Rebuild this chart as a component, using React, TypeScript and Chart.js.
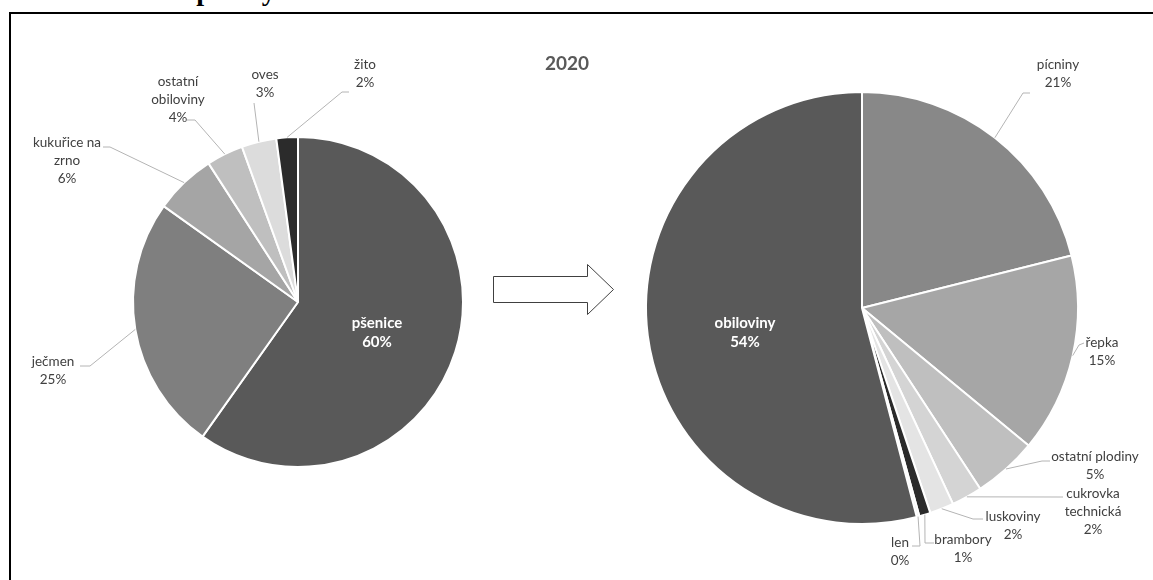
import React, { useEffect, useRef } from 'react';
import { Chart, registerables } from 'chart.js';

Chart.register(...registerables);

// ---------- data ----------
const captionText = 'Graf 1: Osevní plochy v ČR';
const rightTitle = '2020';

const grainCategories = ['pšenice', 'ječmen', 'kukuřice na\nzrno', 'ostatní\nobiloviny', 'oves', 'žito'];
const grainValues = [59.7, 25.0, 6.0, 3.6, 3.4, 2.1];
const grainColors = ['#595959', '#7f7f7f', '#a5a5a5', '#bfbfbf', '#dcdcdc', '#2b2b2b'];

const cropCategories = ['pícniny', 'řepka', 'ostatní plodiny', 'cukrovka\ntechnická', 'luskoviny', 'brambory', 'len', 'obiloviny'];
const cropValues = [21.1, 14.9, 4.8, 2.3, 1.8, 0.84, 0.2, 54.1];
const cropColors = ['#888888', '#a6a6a6', '#bfbfbf', '#d4d4d4', '#e4e4e4', '#2b2b2b', '#f2f2f2', '#595959'];

// ---------- label layout (offsets from pie centre) ----------
type LabelPos = { inside?: boolean; tx: number; ty: number; ex?: number; ey?: number; fx?: number; fy?: number };

const grainLabelLayout: LabelPos[] = [
  { inside: true, tx: 79, ty: 21 },
  { tx: -245, ty: 60, ex: -208, ey: 64, fx: -218, fy: 64 },
  { tx: -231, ty: -159, ex: -188, ey: -155, fx: -195, fy: -155 },
  { tx: -120, ty: -220, ex: -103, ey: -182, fx: -111, fy: -182 },
  { tx: -33, ty: -227, ex: -44, ey: -199, fx: -44, fy: -199 },
  { tx: 67, ty: -237, ex: 44, ey: -210, fx: 51, fy: -210 },
];

const cropLabelLayout: LabelPos[] = [
  { tx: 196, ty: -243, ex: 161, ey: -215, fx: 168, fy: -215 },
  { tx: 240, ty: 35, ex: 217, ey: 37, fx: 222, fy: 35 },
  { tx: 233, ty: 149, ex: 180, ey: 153, fx: 188, fy: 153 },
  { tx: 231, ty: 186, ex: 195, ey: 189, fx: 201, fy: 189 },
  { tx: 151, ty: 209, ex: 111, ey: 211, fx: 121, fy: 211 },
  { tx: 101, ty: 232, ex: 63, ey: 235, fx: 72, fy: 235 },
  { tx: 38, ty: 235, ex: 58, ey: 238, fx: 50, fy: 238 },
  { inside: true, tx: -117, ty: 15 },
];

function makeLabelPlugin(layout: LabelPos[]) {
  return {
    id: 'sliceLabels',
    afterDatasetsDraw(chart: any) {
      const ctx: CanvasRenderingContext2D = chart.ctx;
      const meta = chart.getDatasetMeta(0);
      const data = chart.data.datasets[0].data as number[];
      const total = data.reduce((a, b) => a + b, 0);
      const labels = chart.data.labels as string[];
      meta.data.forEach((arc: any, i: number) => {
        const p = arc.getProps(['x', 'y', 'startAngle', 'endAngle', 'outerRadius'], true);
        const L = layout[i];
        const pct = Math.round((data[i] / total) * 100) + '%';
        const lines = [...labels[i].split('\n'), pct];
        ctx.save();
        let lh = 18;
        if (L.inside) {
          ctx.font = 'bold 15px Lato';
          ctx.fillStyle = '#ffffff';
          lh = 19;
        } else {
          const mid = (p.startAngle + p.endAngle) / 2;
          const sx = p.x + Math.cos(mid) * p.outerRadius;
          const sy = p.y + Math.sin(mid) * p.outerRadius;
          ctx.strokeStyle = '#b4b4b4';
          ctx.lineWidth = 1;
          ctx.beginPath();
          ctx.moveTo(sx, sy);
          ctx.lineTo(p.x + (L.ex as number), p.y + (L.ey as number));
          ctx.lineTo(p.x + (L.fx as number), p.y + (L.fy as number));
          ctx.stroke();
          ctx.font = '13.5px Lato';
          ctx.fillStyle = '#404040';
        }
        ctx.textAlign = 'center';
        ctx.textBaseline = 'middle';
        lines.forEach((t, k) => ctx.fillText(t, p.x + L.tx, p.y + L.ty + k * lh));
        ctx.restore();
      });
    },
  };
}

function PieCanvas(props: {
  labels: string[];
  values: number[];
  colors: string[];
  layout: LabelPos[];
  left: number;
  width: number;
  height: number;
  padding: { left: number; top: number; right: number; bottom: number };
}) {
  const ref = useRef<HTMLCanvasElement | null>(null);
  useEffect(() => {
    if (!ref.current) return;
    const chart = new Chart(ref.current, {
      type: 'pie',
      data: {
        labels: props.labels,
        datasets: [
          {
            data: props.values,
            backgroundColor: props.colors,
            borderColor: '#ffffff',
            borderWidth: 2,
          },
        ],
      },
      options: {
        responsive: false,
        animation: false,
        layout: { padding: props.padding },
        plugins: { legend: { display: false }, tooltip: { enabled: false } },
      },
      plugins: [makeLabelPlugin(props.layout)],
    });
    return () => chart.destroy();
  }, []);
  return (
    <canvas
      ref={ref}
      width={props.width}
      height={props.height}
      style={{ position: 'absolute', left: props.left, top: 0, width: props.width, height: props.height }}
    />
  );
}

export default function App() {
  return (
    <div
      style={{
        position: 'fixed',
        left: 0,
        top: 0,
        width: 1153,
        height: 580,
        overflow: 'hidden',
        background: '#ffffff',
      }}
    >
      <div
        style={{
          position: 'absolute',
          left: 12,
          top: -23,
          font: 'bold 28px "Liberation Serif"',
          lineHeight: '28px',
          whiteSpace: 'nowrap',
          color: '#000',
        }}
      >
        {captionText}
      </div>
      <div
        style={{
          position: 'absolute',
          left: 0,
          top: 12,
          width: 1153,
          height: 600,
          background: '#ffffff',
        }}
      />
      <div
        style={{
          position: 'absolute',
          left: 9,
          top: 12,
          width: 1200,
          height: 700,
          borderTop: '2px solid #000',
          borderLeft: '2px solid #000',
        }}
      />
      <PieCanvas
        labels={grainCategories}
        values={grainValues}
        colors={grainColors}
        layout={grainLabelLayout}
        left={0}
        width={480}
        height={580}
        padding={{ left: 132, top: 136, right: 16, bottom: 112 }}
      />
      <PieCanvas
        labels={cropCategories}
        values={cropValues}
        colors={cropColors}
        layout={cropLabelLayout}
        left={480}
        width={673}
        height={580}
        padding={{ left: 165, top: 91, right: 74, bottom: 55 }}
      />
      <div
        style={{
          position: 'absolute',
          left: 517,
          top: 51,
          width: 100,
          textAlign: 'center',
          font: 'bold 19px Lato',
          lineHeight: '24px',
          color: '#595959',
        }}
      >
        {rightTitle}
      </div>
      <svg
        width={1153}
        height={580}
        style={{ position: 'absolute', left: 0, top: 0, pointerEvents: 'none' }}
      >
        <polygon
          points="493.5,276.5 587.5,276.5 587.5,264.5 613.5,289.5 587.5,314.5 587.5,302.5 493.5,302.5"
          fill="#ffffff"
          stroke="#404040"
          strokeWidth={1}
        />
      </svg>
    </div>
  );
}
